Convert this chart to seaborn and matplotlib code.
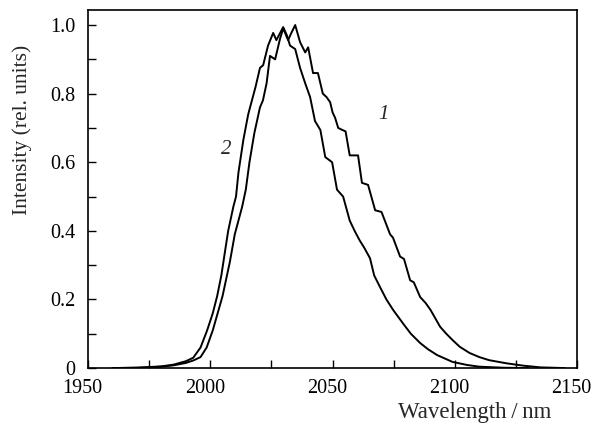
import matplotlib
matplotlib.use("Agg")
import matplotlib.pyplot as plt
import matplotlib.transforms as mtransforms
import seaborn as sns
import pandas as pd
from matplotlib.ticker import MultipleLocator, FuncFormatter

# curve 1 (longer wavelength)
wl_1 = [1960, 1970, 1975, 1980, 1985, 1990, 1993, 1996, 1998.5, 2001, 2003, 2005,
        2006.5, 2008, 2010, 2011.5, 2013, 2014.5, 2016, 2018, 2020.3, 2021.5, 2023,
        2024.4, 2026.5, 2028.5, 2029.8, 2031.8, 2033, 2034.7, 2036.7, 2038.8, 2040,
        2042, 2044, 2046, 2047.5, 2049, 2050, 2051, 2052.3, 2054, 2055.3, 2057,
        2060.4, 2062, 2064.5, 2067.4, 2070, 2073.5, 2074.7, 2077.6, 2079.2, 2081.7,
        2083.2, 2085.8, 2088, 2090, 2092, 2094, 2096.5, 2099, 2102, 2106, 2110,
        2114, 2121, 2128, 2135, 2145]
int_1 = [0.0, 0.001, 0.002, 0.004, 0.008, 0.015, 0.022, 0.032, 0.06, 0.11, 0.16, 0.21,
         0.26, 0.31, 0.39, 0.43, 0.47, 0.52, 0.6, 0.685, 0.76, 0.78, 0.83,
         0.91, 0.9, 0.96, 0.99, 0.956, 0.975, 1.0, 0.95, 0.92, 0.935,
         0.86, 0.86, 0.8, 0.79, 0.775, 0.745, 0.73, 0.7, 0.694, 0.69, 0.62,
         0.62, 0.54, 0.534, 0.46, 0.455, 0.39, 0.38, 0.325, 0.318, 0.256,
         0.25, 0.207, 0.19, 0.17, 0.145, 0.12, 0.1, 0.082, 0.062, 0.044, 0.032,
         0.023, 0.014, 0.007, 0.002, 0.0]

# curve 2 (shorter wavelength)
wl_2 = [1960, 1970, 1975, 1980, 1985, 1990, 1993, 1996, 1998.7, 2001, 2002.8, 2004.5,
        2006, 2007.3, 2009.4, 2010.5, 2011.5, 2013.5, 2015.5, 2017, 2018.5, 2020.3,
        2021.6, 2023.6, 2025.7, 2027, 2029.8, 2031.3, 2032.6, 2034.7, 2036.7, 2038.8,
        2040.8, 2042.8, 2045, 2047, 2049.8, 2051.8, 2054.3, 2057, 2059, 2061, 2063,
        2065.3, 2067, 2069.4, 2072, 2074.7, 2078.8, 2082, 2085.8, 2089, 2092.7,
        2099, 2105, 2110, 2120, 2130]
int_2 = [0.0, 0.001, 0.003, 0.005, 0.01, 0.02, 0.03, 0.06, 0.11, 0.16, 0.21, 0.27,
         0.34, 0.4, 0.47, 0.5, 0.57, 0.665, 0.74, 0.78, 0.82, 0.875,
         0.883, 0.94, 0.977, 0.956, 0.994, 0.97, 0.94, 0.93, 0.875, 0.83,
         0.79, 0.72, 0.694, 0.615, 0.6, 0.52, 0.5, 0.43, 0.4, 0.373, 0.35,
         0.32, 0.27, 0.236, 0.2, 0.17, 0.13, 0.1, 0.073, 0.055, 0.038,
         0.018, 0.009, 0.004, 0.001, 0.0]

x_ticks = [1950, 2000, 2050, 2100, 2150]
y_ticks = [0, 0.2, 0.4, 0.6, 0.8, 1.0]

sns.set_theme(style="ticks")
plt.rcParams["font.family"] = ["Liberation Serif", "DejaVu Serif"]

fig = plt.figure(figsize=(5.95, 4.32), dpi=100)
ax = fig.add_axes([0.148, 0.148, 0.822, 0.829])

df1 = pd.DataFrame({"wl": wl_1, "I": int_1})
df2 = pd.DataFrame({"wl": wl_2, "I": int_2})
sns.lineplot(data=df1, x="wl", y="I", color="black", lw=1.4, estimator=None, sort=False, ax=ax)
sns.lineplot(data=df2, x="wl", y="I", color="black", lw=1.4, estimator=None, sort=False, ax=ax)

ax.set_xlim(1950, 2150)
ax.set_ylim(0, 1.044)
ax.set_xticks(x_ticks)
ax.set_yticks(y_ticks)
ax.xaxis.set_minor_locator(MultipleLocator(25))
ax.yaxis.set_minor_locator(MultipleLocator(0.1))
ax.yaxis.set_major_formatter(FuncFormatter(lambda v, p: "0" if v == 0 else f"{v:.1f}"))
ax.tick_params(which="both", direction="in", length=6, width=1, colors="black",
               labelsize=14.5, top=False, right=False)
ax.tick_params(axis="y", pad=9)
ax.tick_params(axis="x", pad=8)
for s in ax.spines.values():
    s.set_visible(True)
    s.set_linewidth(1.2)
    s.set_color("black")

# x tick labels sit a little left of their ticks in the original
shift = mtransforms.ScaledTranslation(-4 / 72, 0, fig.dpi_scale_trans)
for t in ax.xaxis.get_major_ticks():
    t.label1.set_transform(t.label1.get_transform() + shift)

ax.set_xlabel("Wavelength\u2009/\u2009nm", fontsize=16.5)
ax.xaxis.set_label_coords(0.79, -0.095)
ax.set_ylabel("Intensity (rel. units)", fontsize=15.5)
ax.yaxis.set_label_coords(-0.115, 0.665)

ax.text(2070.7, 0.74, "1", style="italic", fontsize=15, ha="center", va="center")
ax.text(2006.4, 0.636, "2", style="italic", fontsize=15, ha="center", va="center")

fig.savefig("out.png", dpi=100)
